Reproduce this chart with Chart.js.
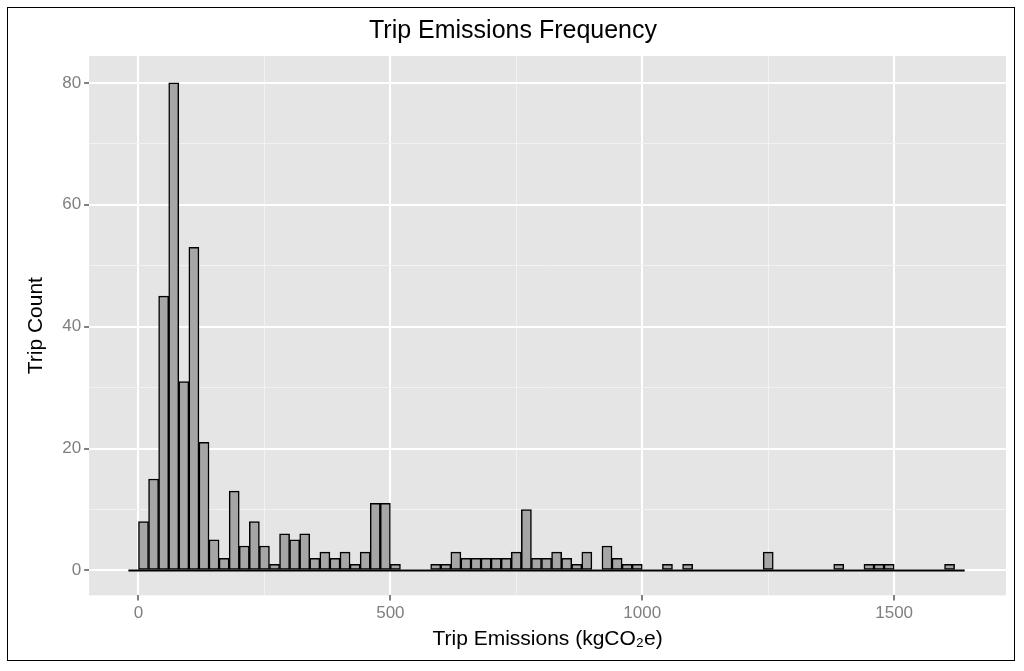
<!DOCTYPE html>
<html>
<head>
<meta charset="utf-8">
<script src="https://cdn.jsdelivr.net/npm/chart.js@4"></script>
<style>
  body { margin: 0; background: #fff; }
  #frame { position: absolute; left: 7px; top: 7px; width: 1006px; height: 652px; border: 1.5px solid #000; }
  canvas { display: block; }
</style>
</head>
<body>
<div id="frame"><canvas id="hist" width="1006" height="652"></canvas></div>
<script>
// Histogram bins (left edges, width 20) and counts
const binStarts = [0,20,40,60,80,100,120,140,160,180,200,220,240,260,280,300,320,340,360,380,400,420,440,460,480,500,
  580,600,620,640,660,680,700,720,740,760,780,800,820,840,860,880,920,940,960,980,1040,1080,1240,1380,1440,1460,1480,1600];
const counts = [8,15,45,80,31,53,21,5,2,13,4,8,4,1,6,5,6,2,3,2,3,1,3,11,11,1,
  1,1,3,2,2,2,2,2,3,10,2,2,3,2,1,3,4,2,1,1,1,1,3,1,1,1,1,1];
const binWidth = 20;
const xTicks = [0, 500, 1000, 1500];
const yTicks = [0, 20, 40, 60, 80];

const bars = binStarts.map((s, i) => ({ x: s + binWidth / 2, y: counts[i] }));

const panelBg = {
  id: "panelBg",
  beforeDraw(chart) {
    const { ctx, chartArea: a } = chart;
    ctx.save();
    ctx.fillStyle = "#E5E5E5";
    ctx.fillRect(a.left, a.top, a.right - a.left, a.bottom - a.top);
    ctx.restore();
  }
};

const isMajor = (list, c) => c.tick && list.includes(c.tick.value);

new Chart(document.getElementById("hist"), {
  type: "bar",
  data: {
    datasets: [
      {
        type: "line",
        data: [{ x: -20, y: 0 }, { x: 1640, y: 0 }],
        borderColor: "#000",
        borderWidth: 2,
        pointRadius: 0,
        order: 0
      },
      {
        data: bars,
        backgroundColor: "#A6A6A6",
        borderColor: "#000",
        borderWidth: 1.5,
        borderSkipped: false,
        barPercentage: 1,
        categoryPercentage: 1,
        order: 1
      }
    ]
  },
  options: {
    responsive: false,
    animation: false,
    layout: { padding: { left: 12, right: 8, top: 0, bottom: 0 } },
    plugins: {
      legend: { display: false },
      tooltip: { enabled: false },
      title: {
        display: true,
        text: "Trip Emissions Frequency",
        color: "#000",
        font: { family: "Liberation Sans", size: 25, weight: "normal" },
        padding: { top: 8, bottom: 10 }
      }
    },
    scales: {
      x: {
        type: "linear",
        offset: false,
        min: -98,
        max: 1722,
        afterBuildTicks(axis) {
          axis.ticks = [-250, 250, 750, 1250].concat(xTicks).sort((a, b) => a - b)
            .filter(v => v >= axis.min && v <= axis.max).map(v => ({ value: v }));
        },
        grid: {
          offset: false,
          color: c => isMajor(xTicks, c) ? "#fff" : "#F2F2F2",
          lineWidth: c => isMajor(xTicks, c) ? 2 : 1,
          tickColor: c => isMajor(xTicks, c) ? "#7f7f7f" : "rgba(0,0,0,0)",
          tickLength: 5
        },
        border: { display: false },
        ticks: {
          color: "#7f7f7f",
          font: { family: "Liberation Sans", size: 17 },
          callback: v => xTicks.includes(v) ? v : "",
          maxRotation: 0,
          autoSkip: false
        },
        title: {
          display: true,
          text: "Trip Emissions (kgCO\u2082e)",
          color: "#000",
          font: { family: "Liberation Sans", size: 21 },
          padding: { top: 0, bottom: 8 }
        }
      },
      y: {
        min: -4.1,
        max: 84.4,
        afterBuildTicks(axis) {
          axis.ticks = [0, 10, 20, 30, 40, 50, 60, 70, 80].map(v => ({ value: v }));
        },
        grid: {
          color: c => isMajor(yTicks, c) ? "#fff" : "#F2F2F2",
          lineWidth: c => isMajor(yTicks, c) ? 2 : 1,
          tickColor: c => isMajor(yTicks, c) ? "#7f7f7f" : "rgba(0,0,0,0)",
          tickLength: 5
        },
        border: { display: false },
        ticks: {
          color: "#7f7f7f",
          font: { family: "Liberation Sans", size: 17 },
          callback: v => yTicks.includes(v) ? v : ""
        },
        title: {
          display: true,
          text: "Trip Count",
          color: "#000",
          font: { family: "Liberation Sans", size: 21 },
          padding: { top: 4, bottom: 10 }
        }
      }
    }
  },
  plugins: [panelBg]
});
</script>
</body>
</html>
